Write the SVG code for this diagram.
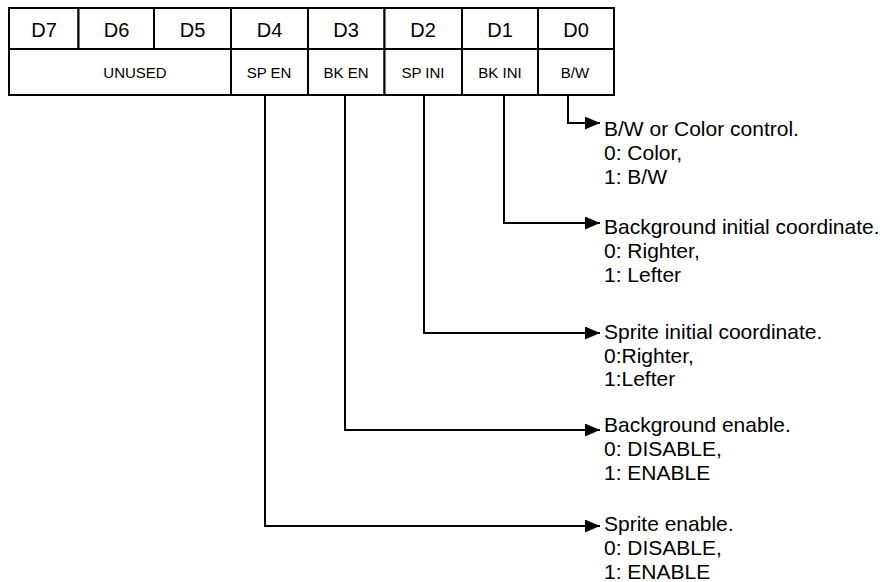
<svg xmlns="http://www.w3.org/2000/svg" width="885" height="582" viewBox="0 0 885 582">
<style>
  .cell { fill: #ffffff; stroke: #000000; stroke-width: 2; }
  .hd { font-family: "Liberation Sans", Arial, sans-serif; font-size: 20px; fill: #000; text-anchor: middle; }
  .fn { font-family: "Liberation Sans", Arial, sans-serif; font-size: 15px; fill: #000; text-anchor: middle; }
  .desc { font-family: "Liberation Sans", Arial, sans-serif; font-size: 21px; fill: #000; }
  .wire { fill: none; stroke: #000; stroke-width: 2; }
</style>
<defs>
  <marker id="ah" markerWidth="15" markerHeight="13" refX="15" refY="6.5" orient="auto" markerUnits="userSpaceOnUse">
    <path d="M0,0 L15,6.5 L0,13 z" fill="#000"/>
  </marker>
</defs>
<rect width="885" height="582" fill="#ffffff"/>

<g id="register">
  <g id="bit-D7"><rect class="cell" x="9" y="8" width="69.5" height="41"/><text class="hd" x="44" y="37">D7</text></g>
  <g id="bit-D6"><rect class="cell" x="78.5" y="8" width="75.5" height="41"/><text class="hd" x="116.5" y="37">D6</text></g>
  <g id="bit-D5"><rect class="cell" x="154" y="8" width="77" height="41"/><text class="hd" x="192.5" y="37">D5</text></g>
  <g id="bit-D4"><rect class="cell" x="231" y="8" width="77" height="41"/><text class="hd" x="269.5" y="37">D4</text></g>
  <g id="bit-D3"><rect class="cell" x="308" y="8" width="76.5" height="41"/><text class="hd" x="346" y="37">D3</text></g>
  <g id="bit-D2"><rect class="cell" x="384.5" y="8" width="77.5" height="41"/><text class="hd" x="423" y="37">D2</text></g>
  <g id="bit-D1"><rect class="cell" x="462" y="8" width="76" height="41"/><text class="hd" x="500" y="37">D1</text></g>
  <g id="bit-D0"><rect class="cell" x="538" y="8" width="76" height="41"/><text class="hd" x="576" y="37">D0</text></g>

  <g id="fn-unused"><rect class="cell" x="9" y="49" width="222" height="46"/><text class="fn" x="135" y="78">UNUSED</text></g>
  <g id="fn-spen"><rect class="cell" x="231" y="49" width="77" height="46"/><text class="fn" x="269" y="78">SP EN</text></g>
  <g id="fn-bken"><rect class="cell" x="308" y="49" width="76.5" height="46"/><text class="fn" x="346" y="78">BK EN</text></g>
  <g id="fn-spini"><rect class="cell" x="384.5" y="49" width="77.5" height="46"/><text class="fn" x="423" y="78">SP INI</text></g>
  <g id="fn-bkini"><rect class="cell" x="462" y="49" width="76" height="46"/><text class="fn" x="500" y="78">BK INI</text></g>
  <g id="fn-bw"><rect class="cell" x="538" y="49" width="76" height="46"/><text class="fn" x="575" y="78">B/W</text></g>
</g>

<g id="connectors">
  <path class="wire" d="M568,95 V123 H600" marker-end="url(#ah)"/>
  <path class="wire" d="M504,95 V223 H600" marker-end="url(#ah)"/>
  <path class="wire" d="M424,95 V333 H600" marker-end="url(#ah)"/>
  <path class="wire" d="M345,95 V430 H600" marker-end="url(#ah)"/>
  <path class="wire" d="M265,95 V526 H600" marker-end="url(#ah)"/>
</g>

<g id="desc-bw">
  <text class="desc" x="604" y="136">B/W or Color control.</text>
  <text class="desc" x="604" y="160">0: Color,</text>
  <text class="desc" x="604" y="184">1: B/W</text>
</g>
<g id="desc-bkini">
  <text class="desc" x="604" y="234">Background initial coordinate.</text>
  <text class="desc" x="604" y="258">0: Righter,</text>
  <text class="desc" x="604" y="282">1: Lefter</text>
</g>
<g id="desc-spini">
  <text class="desc" x="604" y="339">Sprite initial coordinate.</text>
  <text class="desc" x="604" y="363">0:Righter,</text>
  <text class="desc" x="604" y="386">1:Lefter</text>
</g>
<g id="desc-bken">
  <text class="desc" x="604" y="432">Background enable.</text>
  <text class="desc" x="604" y="456">0: DISABLE,</text>
  <text class="desc" x="604" y="480">1: ENABLE</text>
</g>
<g id="desc-spen">
  <text class="desc" x="604" y="531">Sprite enable.</text>
  <text class="desc" x="604" y="555">0: DISABLE,</text>
  <text class="desc" x="604" y="579">1: ENABLE</text>
</g>
</svg>
